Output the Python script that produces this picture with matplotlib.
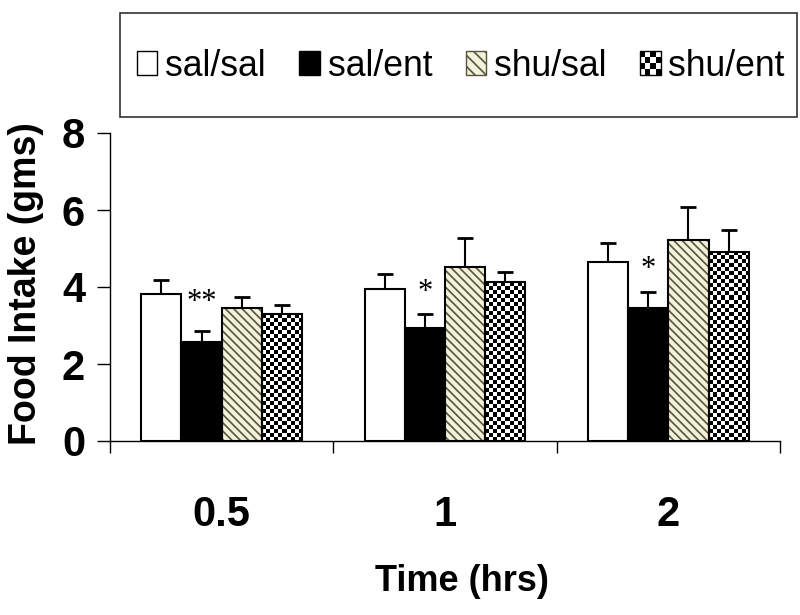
import matplotlib.pyplot as plt
import numpy as np
from matplotlib.patches import Patch, Rectangle
from matplotlib.legend_handler import HandlerPatch

plt.rcParams['font.family'] = ['Liberation Sans', 'DejaVu Sans']
plt.rcParams['hatch.linewidth'] = 1.2

# data (mean food intake, upper SEM)
times = ['0.5', '1', '2']
groups = ['sal/sal', 'sal/ent', 'shu/sal', 'shu/ent']
sal_sal = [3.81, 3.96, 4.64]
sal_ent = [2.56, 2.93, 3.45]
shu_sal = [3.45, 4.53, 5.23]
shu_ent = [3.29, 4.12, 4.92]
sal_sal_err = [0.36, 0.37, 0.49]
sal_ent_err = [0.29, 0.36, 0.41]
shu_sal_err = [0.28, 0.75, 0.86]
shu_ent_err = [0.23, 0.28, 0.57]
stars = ['**', '*', '*']
star_y = [3.6, 3.86, 4.46]

means = [sal_sal, sal_ent, shu_sal, shu_ent]
errs = [sal_sal_err, sal_ent_err, shu_sal_err, shu_ent_err]

hatch_face = '#f2f2da'
hatch_col = '#55553f'


class HandlerChecker(HandlerPatch):
    # legend square with a small checkerboard
    def create_artists(self, legend, orig_handle, xdescent, ydescent,
                       width, height, fontsize, trans):
        n = 4
        cw, ch = width / n, height / n
        arts = [Rectangle((-xdescent, -ydescent), width, height,
                          facecolor='white', lw=0, transform=trans)]
        for r in range(n):
            for c in range(n):
                if (r + c) % 2:
                    arts.append(Rectangle((-xdescent + c * cw, -ydescent + r * ch), cw, ch,
                                          facecolor='black', lw=0, transform=trans))
        arts.append(Rectangle((-xdescent, -ydescent), width, height, fill=False,
                              edgecolor='black', lw=1, transform=trans))
        return arts


fig = plt.figure(figsize=(8, 6.15), dpi=100)
ax = fig.add_axes([110 / 800, 1 - 441 / 615, 670 / 800, 308 / 615])
ax.set_xlim(-0.5, 2.5)
ax.set_ylim(0, 8)

x = np.arange(len(times))
w = 0.18
pos = [x + (i - 1.5) * w for i in range(4)]

ax.bar(pos[0], sal_sal, w, color='white', edgecolor='black', lw=1.5, zorder=3)
ax.bar(pos[1], sal_ent, w, color='black', edgecolor='black', lw=1.5, zorder=3)
ax.bar(pos[2], shu_sal, w, color=hatch_face, edgecolor=hatch_col, hatch='\\\\\\\\', lw=0, zorder=2)
ax.bar(pos[2], shu_sal, w, fill=False, edgecolor='black', lw=1.5, zorder=3)
chk = ax.bar(pos[3], shu_ent, w, color='white', lw=0, zorder=1)
ax.bar(pos[3], shu_ent, w, fill=False, edgecolor='black', lw=1.5, zorder=3)

# checkerboard fill for shu/ent
for b in chk:
    x0, bw, bh = b.get_x(), b.get_width(), b.get_height()
    px = ax.transData.transform([(x0, 0), (x0 + bw, bh)])
    ncol = 10
    cell = (px[1, 0] - px[0, 0]) / ncol
    nrow = max(1, int(round((px[1, 1] - px[0, 1]) / cell)))
    board = np.indices((nrow, ncol)).sum(axis=0) % 2
    im = ax.imshow(board, cmap='gray', extent=(x0, x0 + bw, 0, bh), aspect='auto',
                   interpolation='nearest', zorder=2)
    im.set_clip_path(b)

for p, m, e in zip(pos, means, errs):
    ax.errorbar(p, m, yerr=[np.zeros(len(m)), e], fmt='none', ecolor='black',
                elinewidth=1.5, capsize=5.5, capthick=2, zorder=1)

for xi, yi, s in zip(pos[1], star_y, stars):
    ax.text(xi, yi, s, ha='center', va='center', fontsize=22, family='Liberation Serif')

ax.set_xlim(-0.5, 2.5)
ax.set_ylim(0, 8)

for s in ['top', 'right']:
    ax.spines[s].set_visible(False)
ax.spines['left'].set_linewidth(1)
ax.spines['bottom'].set_linewidth(1)

ax.set_yticks([0, 2, 4, 6, 8])
ax.tick_params(axis='y', length=9.4, width=1, pad=8.6, labelsize=30)
ax.set_xticks([-0.5, 0.5, 1.5, 2.5])
ax.tick_params(axis='x', which='major', length=8.6, width=1, labelbottom=False)
ax.set_xticks(x, minor=True)
ax.set_xticklabels(times, minor=True)
ax.tick_params(axis='x', which='minor', length=0, pad=39, labelsize=30)
for lab in ax.get_yticklabels() + ax.get_xticklabels(minor=True):
    lab.set_fontweight('bold')

ax.set_xlabel('Time (hrs)', fontsize=26, fontweight='bold')
ax.xaxis.set_label_coords(0.525, -0.40)
ax.set_ylabel('Food Intake (gms)', fontsize=27, fontweight='bold')
ax.yaxis.set_label_coords(-0.098, 0.51)

# legend in its own box above the plot
fig.add_artist(Rectangle((120 / 800, 1 - 117 / 615), 677 / 800, 104 / 615,
                         transform=fig.transFigure, fill=False, edgecolor='#333333', lw=1.2))
handles = [Patch(facecolor='white', edgecolor='black'),
           Patch(facecolor='black', edgecolor='black'),
           Patch(facecolor=hatch_face, edgecolor=hatch_col, hatch='\\\\\\'),
           Patch(facecolor='white', edgecolor='black')]
fig.legend(handles, groups, ncol=4, loc='center left', bbox_to_anchor=(137 / 800, 1 - 66 / 615),
           frameon=False, fontsize=25.6, borderpad=0, borderaxespad=0, handlelength=0.57,
           handleheight=0.65, handletextpad=0.22, columnspacing=0.95,
           handler_map={handles[3]: HandlerChecker()})

fig.savefig('out.png', dpi=100)
